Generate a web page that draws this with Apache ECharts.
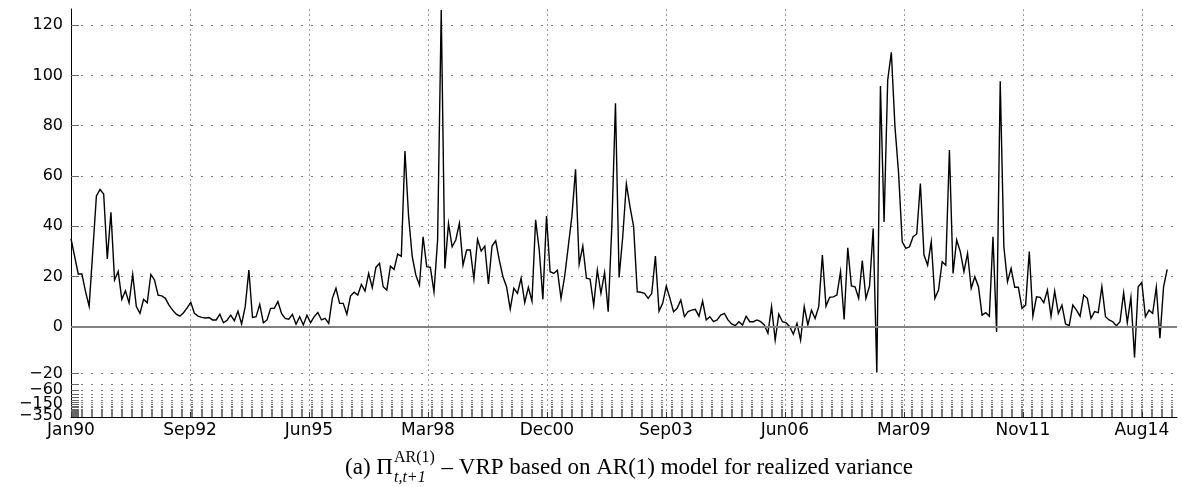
<!DOCTYPE html>
<html><head><meta charset="utf-8">
<script src="https://cdn.jsdelivr.net/npm/echarts@6/dist/echarts.min.js"></script>
<style>html,body{margin:0;padding:0;background:#fff}#c{width:1182px;height:487px}</style>
</head><body><div id="c"></div>
<script>
// ---- data ----
const xTickLabels = ['Jan90','Sep92','Jun95','Mar98','Dec00','Sep03','Jun06','Mar09','Nov11','Aug14'];
const monthsJan90ToAug14 = 295;
const lastAxisMonth = 304.7;
// monthly VRP values, Jan 1990 onward
const vrp = [
 35, 28, 21, 21, 14, 8.2, 30, 52, 54.6, 52.8, 27, 45.5,
 18.6, 22, 10.9, 14.3, 9.5, 20.8, 8, 5.3, 10.9, 9.5, 20.8, 18.6,
 12.6, 12.3, 11.3, 8.6, 6.6, 5, 4.2, 5.6, 7.5, 9.7, 5.3, 4.2,
 3.7, 3.5, 3.7, 2.7, 2.7, 5, 1.6, 2.6, 4.6, 2.4, 6.2, 1.1,
 8, 22.5, 3.7, 4, 8.9, 1.6, 2.7, 7.3, 7.3, 10, 5.3, 3.3,
 3, 4.9, 1, 4, 0.7, 4.6, 1.6, 4, 5.7, 2.7, 3.3, 1.3,
 11.3, 15.3, 9.3, 9.3, 5, 12.2, 13.7, 12.6, 16.8, 14.2, 21.2, 15.5,
 23.6, 25.2, 15.9, 14.6, 24.1, 22.8, 28.9, 28, 69.9, 44, 28, 20.6,
 16.6, 35.8, 23.9, 23.6, 13.9, 34.5, 126, 23.2, 41.1, 31.8, 34.5, 41.1,
 24.5, 30.5, 30.5, 19, 34.8, 30.1, 32.1, 17, 32.1, 34.2, 26.5, 19.9,
 15.9, 7, 15.3, 13.3, 19.3, 9.6, 15.7, 10.2, 42.5, 30.5, 10.9, 44,
 21.9, 21.2, 22.5, 11.3, 20, 32, 44, 62.6, 24.9, 32.1, 19.3, 19,
 8.6, 22.5, 13.3, 21.6, 6, 40, 88.9, 19.6, 35.8, 56.8, 47.8, 39.8,
 13.9, 13.7, 13.3, 11.3, 13.3, 28.1, 6.2, 9.3, 16.2, 11.3, 6, 7.3,
 10.6, 4, 6, 6.6, 6.9, 4.2, 10.2, 2.7, 4, 2, 2.7, 4.6,
 5.3, 2.7, 1.1, 0.4, 2, 0.7, 4.2, 2, 2, 2.7, 2, 0.7,
 -2.8, 8, -5.7, 5, 2, 1.6, 0, -3.2, 1.3, -5.7, 8, 0.7,
 6.6, 3.3, 8, 28.5, 8.2, 11.7, 11.9, 12.6, 21.9, 2.9, 31.4, 16.2,
 15.9, 11.3, 26.3, 11.3, 16.2, 39.1, -19.6, 95.8, 41.7, 98.1, 109.2, 79.6,
 61, 33.8, 31.2, 31.8, 35.8, 36.9, 57, 28.5, 24.5, 33.8, 11.3, 14.6,
 25.9, 24.5, 70.3, 21.2, 34.5, 29.9, 21.9, 29.2, 15.3, 19.9, 15.9, 4.6,
 5.6, 4.2, 35.8, -2.2, 97.7, 31.8, 17.9, 23.2, 15.7, 15.7, 7.3, 8.6,
 29.9, 4.2, 11.9, 11.7, 9.6, 14.6, 4.2, 14.2, 5.3, 8.6, 1.1, 0.4,
 8.6, 6.6, 4.2, 12.6, 11.3, 3.3, 6, 5.6, 15.9, 4, 2.7, 2,
 0.4, 2, 13.5, 1.6, 11.7, -13.1, 15.9, 17.6, 4, 6.6, 5.3, 15.7,
 -4.9, 15.9, 22.8
];
const yGridValues = [120,100,80,60,40,20,0,-20,-40,-60,-80,-100,-120,-140,-160,-180,-200,-220,-240,-260,-280,-300,-320,-340,-360];
const yLabelValues = [120,100,80,60,40,20,0,-20,-60,-350];
const yLabelValuesExtra = [-150];
const yTop = 126.4, yBottom = -374;
const captionLead = '(a) \u03A0', captionSup = 'AR(1)', captionSub = 't,t+1',
      captionTail = ' \u2013 VRP based on AR(1) model for realized variance';

// ---- axis transform (linear above, compressed log below -20, as in the original) ----
const NEG_SCALE = 0.93, KNEE = -20, LOG_K = 5.91;
function toAxis(v){ if (v >= 0) return v; if (v >= KNEE) return v*NEG_SCALE; return KNEE*NEG_SCALE - LOG_K*Math.log(v/KNEE); }
function fromAxis(d){ if (d >= 0) return d; const kd = KNEE*NEG_SCALE; if (d >= kd) return d/NEG_SCALE; return KNEE*Math.exp((kd-d)/LOG_K); }
function yFmt(d){ const v = Math.round(fromAxis(d)); return v < 0 ? '\u2212' + (-v) : String(v); }

const xTickPos = xTickLabels.map((_, k) => k*monthsJan90ToAug14/(xTickLabels.length-1));
const tickFont = 'DejaVu Sans';

const chart = echarts.init(document.getElementById('c'), null, {renderer:'canvas'});

// caption layout (stacked super/subscript)
const mctx = document.createElement('canvas').getContext('2d');
const mainFont = '23px "Liberation Serif"', smallFont = '16px "Liberation Serif"', smallItal = 'italic 16px "Liberation Serif"';
function tw(t, f){ mctx.font = f; return mctx.measureText(t).width; }
const wLead = tw(captionLead, mainFont), wScr = Math.max(tw(captionSup, smallFont), tw(captionSub, smallItal)) + 2,
      wTail = tw(captionTail, mainFont);
const capCenter = 629, capY = 468;
const x0 = capCenter - (wLead + wScr + wTail)/2;

const yLabelStyle = {margin: 8, color: '#000', fontFamily: tickFont, fontSize: 16, hideOverlap: false, formatter: yFmt};

chart.setOption({
  animation: false,
  grid: {left: 71, right: 5, top: 9, bottom: 70, containLabel: false, outerBoundsMode: 'none'},
  xAxis: {
    type: 'value', min: 0, max: lastAxisMonth,
    axisLine: {show: true, onZero: false, lineStyle: {color: '#000', width: 1}},
    axisTick: {show: true, inside: true, length: 5, customValues: xTickPos, lineStyle: {color: '#333'}},
    axisLabel: {customValues: xTickPos, margin: 5, color: '#000', fontFamily: tickFont, fontSize: 17, hideOverlap: false,
      formatter: v => xTickLabels[Math.round(v*(xTickLabels.length-1)/monthsJan90ToAug14)] || ''},
    splitLine: {show: true, lineStyle: {color: '#9a9a9a', width: 1, type: [2, 3]}}
  },
  yAxis: [{
    type: 'value', min: toAxis(yBottom), max: yTop,
    axisLine: {show: true, onZero: false, lineStyle: {color: '#000', width: 1}},
    axisTick: {show: true, inside: true, length: 8, customValues: yGridValues.map(toAxis), lineStyle: {color: '#666'}},
    axisLabel: Object.assign({customValues: yLabelValues.map(toAxis)}, yLabelStyle),
    splitLine: {show: true, lineStyle: {color: '#7a7a7a', width: 1, type: [2, 8]}}
  }, {
    type: 'value', min: toAxis(yBottom), max: yTop, position: 'left', offset: 0,
    axisLine: {show: false}, axisTick: {show: false}, splitLine: {show: false},
    axisLabel: Object.assign({customValues: yLabelValuesExtra.map(toAxis)}, yLabelStyle)
  }],
  series: [{
    type: 'line', yAxisIndex: 0, data: vrp.map((v, i) => [i, toAxis(v)]),
    symbol: 'none', showSymbol: false, z: 3,
    lineStyle: {color: '#000', width: 1.4, join: 'miter', miterLimit: 10},
    markLine: {silent: true, symbol: 'none', label: {show: false}, animation: false,
      lineStyle: {color: '#808080', width: 2, type: 'solid'}, data: [{yAxis: 0}]}
  }],
  graphic: [
    {type: 'text', x: x0, y: capY, style: {text: captionLead, font: mainFont, fill: '#000', verticalAlign: 'middle', align: 'left'}},
    {type: 'text', x: x0 + wLead + 1, y: capY - 10, style: {text: captionSup, font: smallFont, fill: '#000', verticalAlign: 'middle', align: 'left'}},
    {type: 'text', x: x0 + wLead + 1, y: capY + 10, style: {text: captionSub, font: smallItal, fill: '#000', verticalAlign: 'middle', align: 'left'}},
    {type: 'text', x: x0 + wLead + wScr, y: capY, style: {text: captionTail, font: mainFont, fill: '#000', verticalAlign: 'middle', align: 'left'}}
  ]
});
</script></body></html>
